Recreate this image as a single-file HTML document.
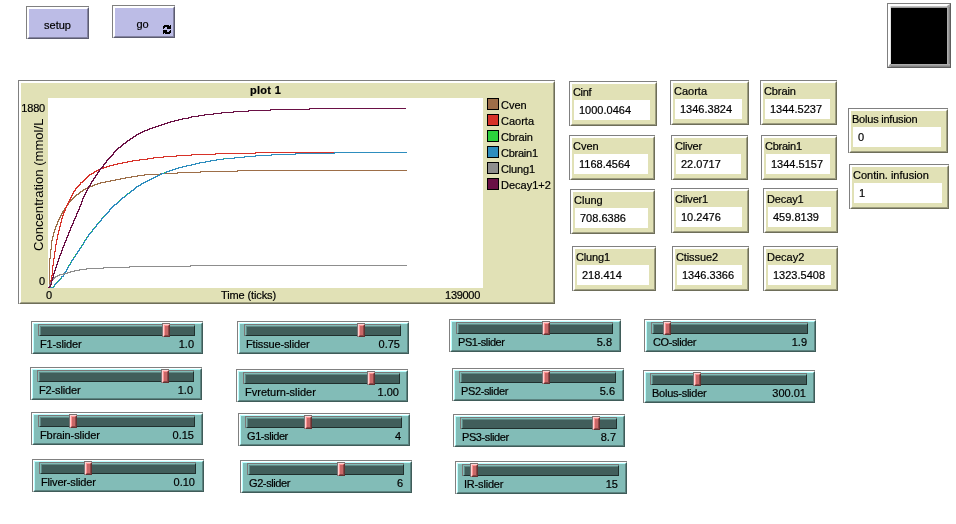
<!DOCTYPE html>
<html lang="en"><head><meta charset="utf-8"><title>NetLogo model</title>
<style>
html,body{margin:0;padding:0;background:#fff;}
body{width:956px;height:524px;position:relative;overflow:hidden;font-family:"Liberation Sans", "DejaVu Sans", sans-serif;font-size:11px;color:#000;line-height:13px;-webkit-text-stroke:0.2px #000;}
.w{position:absolute;box-sizing:border-box;border-top:1px solid #808080;border-left:1px solid #808080;}
.w>.b{position:absolute;left:0;top:0;right:0;bottom:0;box-sizing:border-box;border-style:solid;border-width:2px;}
.t{position:absolute;white-space:nowrap;}
.btn>.b{background:#bcbce6;border-color:#fff #5c5c70 #5c5c70 #fff;}
.btn>.b:after,.mon>.b:after,.sl>.b:after,.plot>.b:after{content:"";position:absolute;left:-1px;top:-1px;right:-1px;bottom:-1px;border-style:solid;border-width:1px;}
.btn>.b:after{border-color:#fff #8383a1 #8383a1 #fff;}
.mon>.b,.plot>.b{background:#e1e1b6;border-color:#fff #6e6e59 #6e6e59 #fff;}
.mon>.b:after,.plot>.b:after{border-color:#fff #9d9d7f #9d9d7f #fff;}
.sl>.b{background:#82bcb7;border-color:#fff #3f5c59 #3f5c59 #fff;}
.sl>.b:after{border-color:#b9ffff #5b8380 #5b8380 #b9ffff;}
.val{position:absolute;background:#fff;}
.ch{position:absolute;box-sizing:border-box;height:12px;background:#415e5b;border-top:1px solid #7b7676;border-left:1px solid #7b7676;}
.ch:before{content:"";position:absolute;left:0;top:0;right:0;bottom:0;box-sizing:border-box;border-style:solid;border-width:1px;border-color:#82bcb7 #202f2d #202f2d #82bcb7;}
.ch:after{content:"";position:absolute;left:1px;top:1px;right:1px;bottom:1px;box-sizing:border-box;border-top:1px solid #5f8985;border-left:1px solid #5f8985;}
.hd{position:absolute;box-sizing:border-box;width:8px;height:14px;background:#c86767;border-top:1px solid #7b7474;border-left:1px solid #7b7474;}
.hd:before{content:"";position:absolute;left:0;top:0;right:0;bottom:0;box-sizing:border-box;border-style:solid;border-width:1px;border-color:#ffd2d2 #623232 #623232 #ffd2d2;}
.hd:after{content:"";position:absolute;left:1px;top:1px;right:1px;bottom:1px;box-sizing:border-box;border-style:solid;border-width:1px;border-color:#ff9393 #8c4848 #8c4848 #ff9393;}
.sw{position:absolute;box-sizing:border-box;width:12px;height:12px;border:1px solid #000;}
</style></head>
<body>
<div class="w btn" style="left:26px;top:6px;width:63px;height:33px"><div class="b"></div><div class="t" style="left:-1px;width:63px;top:12px;text-align:center">setup</div></div>
<div class="w btn" style="left:112px;top:5px;width:63px;height:33px"><div class="b"></div><div class="t" style="left:-2px;width:63px;top:12px;text-align:center">go</div><svg style="position:absolute;left:50px;top:19px" width="8" height="9" viewBox="0 0 8 9" shape-rendering="crispEdges" fill="#000"><rect x="1" y="0" width="5" height="1"/><rect x="7" y="0" width="1" height="1"/><rect x="0" y="1" width="8" height="1"/><rect x="0" y="2" width="2" height="1"/><rect x="4" y="2" width="4" height="1"/><rect x="0" y="3" width="1" height="1"/><rect x="4" y="3" width="4" height="1"/><rect x="0" y="5" width="4" height="1"/><rect x="7" y="5" width="1" height="1"/><rect x="0" y="6" width="4" height="1"/><rect x="6" y="6" width="2" height="1"/><rect x="0" y="7" width="8" height="1"/><rect x="0" y="8" width="1" height="1"/><rect x="2" y="8" width="5" height="1"/></svg></div>
<div style="position:absolute;left:887px;top:3px;width:64px;height:65px;box-sizing:border-box;background:#000;border-style:solid;border-width:1px;border-color:#808080 #5e5e5e #5e5e5e #808080"><div style="position:absolute;left:0;top:0;right:0;bottom:0;box-sizing:border-box;border-style:solid;border-width:2px 3px 3px 2px;border-color:#fff #9c9c9c #9c9c9c #fff"></div><div style="position:absolute;left:2px;top:2px;right:3px;height:2px;background:linear-gradient(#d4d4d4,#8a8a8a)"></div><div style="position:absolute;left:2px;top:2px;width:1px;bottom:3px;background:#e4e4e4"></div><div style="position:absolute;right:0;top:3px;width:3px;bottom:2px;background:linear-gradient(to right,#b6b6b6,#9a9a9a 50%,#767676)"></div><div style="position:absolute;left:3px;bottom:0;right:0;height:3px;background:linear-gradient(#b6b6b6,#9a9a9a 50%,#767676)"></div></div>
<div class="w plot" style="left:18px;top:80px;width:537px;height:224px"><div class="b"></div><div class="t" style="left:29px;width:435px;top:3px;text-align:center;font-weight:bold;letter-spacing:0.3px">plot 1</div><div style="position:absolute;left:29px;top:17px;width:435px;height:190px;background:#fff"></div><div class="t" style="left:0;width:26px;top:21px;text-align:right;letter-spacing:-0.2px">1880</div><div class="t" style="left:0;width:26px;top:194px;text-align:right">0</div><div class="t" style="left:27px;top:208px">0</div><div class="t" style="left:130px;width:199px;top:208px;text-align:center;letter-spacing:-0.12px">Time (ticks)</div><div class="t" style="left:29px;width:432px;top:208px;text-align:right;letter-spacing:-0.3px">139000</div><div class="t" style="left:13px;top:170px;width:140px;height:14px;line-height:14px;font-size:13.1px;-webkit-text-stroke:0;transform-origin:0 0;transform:rotate(-90deg)">Concentration (mmol/L</div><div class="sw" style="left:468px;top:17px;background:#9d6e48"></div><div class="t" style="left:482px;top:18px">Cven</div><div class="sw" style="left:468px;top:33px;background:#d73229"></div><div class="t" style="left:482px;top:34px">Caorta</div><div class="sw" style="left:468px;top:49px;background:#2cd13b"></div><div class="t" style="left:482px;top:50px;letter-spacing:-0.1px">Cbrain</div><div class="sw" style="left:468px;top:65px;background:#2d8dbe"></div><div class="t" style="left:482px;top:66px;letter-spacing:-0.25px">Cbrain1</div><div class="sw" style="left:468px;top:81px;background:#8d8d8d"></div><div class="t" style="left:482px;top:82px;letter-spacing:-0.16px">Clung1</div><div class="sw" style="left:468px;top:97px;background:#6a1045"></div><div class="t" style="left:482px;top:98px">Decay1+2</div><svg style="position:absolute;left:29px;top:17px" width="435" height="190" viewBox="48 98 435 190" shape-rendering="crispEdges" fill="none" stroke-width="1"><path stroke="#9d6e48" d="M48,287.5H49M49.5,258V288M49,258.5H50M50.5,249V259M50,249.5H51M51.5,240V250M51,240.5H52M52.5,236V241M52,236.5H53M53.5,232V237M53,232.5H54M54.5,229V233M54,229.5H55M55.5,226V230M55,226.5H56M56.5,224V227M56,224.5H57M57.5,221V225M57,221.5H58M58.5,219V222M58,219.5H59M59.5,217V220M59,217.5H60M60.5,215V218M60,215.5H61M61.5,213V216M61,213.5H62M62.5,211V214M62,211.5H63M63.5,210V212M63,210.5H64M64.5,208V211M64,208.5H65M65.5,207V209M65,207.5H66M66.5,205V208M66,205.5H67M67.5,204V206M67,204.5H68M68.5,202V205M68,202.5H69M69.5,201V203M69,201.5H70M70.5,200V202M70,200.5H71M71.5,199V201M71,199.5H72M72.5,198V200M72,198.5H73M73.5,197V199M73,197.5H74M74.5,196V198M74,196.5H75M75.5,195V197M75,195.5H76M76.5,194V196M76,194.5H78M78.5,193V195M78,193.5H79M79.5,192V194M79,192.5H80M80.5,191V193M80,191.5H82M82.5,190V192M82,190.5H83M83.5,189V191M83,189.5H85M85.5,188V190M85,188.5H87M87.5,187V189M87,187.5H89M89.5,186V188M89,186.5H92M92.5,185V187M92,185.5H94M94.5,184V186M94,184.5H97M97.5,183V185M97,183.5H100M100.5,182V184M100,182.5H105M105.5,181V183M105,181.5H110M110.5,180V182M110,180.5H115M115.5,179V181M115,179.5H120M120.5,178V180M120,178.5H125M125.5,177V179M125,177.5H131M131.5,176V178M131,176.5H137M137.5,175V177M137,175.5H144M144.5,174V176M144,174.5H160M160.5,173V175M160,173.5H177M177.5,172V174M177,172.5H200M200.5,171V173M200,171.5H237M237.5,170V172M237,170.5H407"/><path stroke="#d73229" d="M48,287.5H49M49.5,284V288M49,284.5H50M50.5,280V285M50,280.5H51M51.5,275V281M51,275.5H52M52.5,265V276M52,265.5H53M53.5,258V266M53,258.5H54M54.5,251V259M54,251.5H55M55.5,244V252M55,244.5H56M56.5,239V245M56,239.5H57M57.5,234V240M57,234.5H58M58.5,230V235M58,230.5H59M59.5,226V231M59,226.5H60M60.5,222V227M60,222.5H61M61.5,218V223M61,218.5H62M62.5,215V219M62,215.5H63M63.5,212V216M63,212.5H64M64.5,210V213M64,210.5H65M65.5,207V211M65,207.5H66M66.5,205V208M66,205.5H67M67.5,203V206M67,203.5H68M68.5,201V204M68,201.5H69M69.5,199V202M69,199.5H70M70.5,197V200M70,197.5H71M71.5,195V198M71,195.5H72M72.5,193V196M72,193.5H73M73.5,191V194M73,191.5H74M74.5,190V192M74,190.5H75M75.5,188V191M75,188.5H76M76.5,187V189M76,187.5H77M77.5,186V188M77,186.5H78M78.5,185V187M78,185.5H79M79.5,184V186M79,184.5H80M80.5,182V185M80,182.5H82M82.5,181V183M82,181.5H83M83.5,180V182M83,180.5H84M84.5,179V181M84,179.5H85M85.5,178V180M85,178.5H86M86.5,177V179M86,177.5H87M87.5,176V178M87,176.5H88M88.5,175V177M88,175.5H89M89.5,174V176M89,174.5H91M91.5,173V175M91,173.5H93M93.5,172V174M93,172.5H94M94.5,171V173M94,171.5H96M96.5,170V172M96,170.5H98M98.5,169V171M98,169.5H100M100.5,168V170M100,168.5H103M103.5,167V169M103,167.5H106M106.5,166V168M106,166.5H109M109.5,165V167M109,165.5H113M113.5,164V166M113,164.5H117M117.5,163V165M117,163.5H122M122.5,162V164M122,162.5H127M127.5,161V163M127,161.5H132M132.5,160V162M132,160.5H139M139.5,159V161M139,159.5H147M147.5,158V160M147,158.5H153M153.5,157V159M153,157.5H163M163.5,156V158M163,156.5H176M176.5,155V157M176,155.5H191M191.5,154V156M191,154.5H215M215.5,153V155M215,153.5H255M255.5,152V154M255,152.5H407"/><path stroke="#2cd13b" d="M48,287.5H53M53.5,286V288M53,286.5H54M54.5,284V287M54,284.5H55M55.5,283V285M55,283.5H56M56.5,282V284M56,282.5H57M57.5,281V283M57,281.5H58M58.5,280V282M58,280.5H59M59.5,279V281M59,279.5H60M60.5,278V280M60,278.5H61M61.5,276V279M61,276.5H63M63.5,274V277M63,274.5H64M64.5,272V275M64,272.5H65M65.5,271V273M65,271.5H66M66.5,269V272M66,269.5H67M67.5,267V270M67,267.5H68M68.5,265V268M68,265.5H69M69.5,264V266M69,264.5H70M70.5,262V265M70,262.5H71M71.5,260V263M71,260.5H72M72.5,259V261M72,259.5H73M73.5,257V260M73,257.5H74M74.5,256V258M74,256.5H75M75.5,254V257M75,254.5H76M76.5,253V255M76,253.5H77M77.5,251V254M77,251.5H78M78.5,250V252M78,250.5H79M79.5,248V251M79,248.5H80M80.5,247V249M80,247.5H81M81.5,245V248M81,245.5H82M82.5,244V246M82,244.5H83M83.5,242V245M83,242.5H84M84.5,240V243M84,240.5H85M85.5,239V241M85,239.5H86M86.5,237V240M86,237.5H87M87.5,236V238M87,236.5H88M88.5,234V237M88,234.5H89M89.5,233V235M89,233.5H90M90.5,232V234M90,232.5H91M91.5,231V233M91,231.5H92M92.5,229V232M92,229.5H93M93.5,228V230M93,228.5H94M94.5,227V229M94,227.5H95M95.5,226V228M95,226.5H96M96.5,224V227M96,224.5H97M97.5,223V225M97,223.5H98M98.5,222V224M98,222.5H99M99.5,221V223M99,221.5H100M100.5,220V222M100,220.5H101M101.5,218V221M101,218.5H102M102.5,217V219M102,217.5H103M103.5,216V218M103,216.5H104M104.5,215V217M104,215.5H105M105.5,214V216M105,214.5H106M106.5,213V215M106,213.5H107M107.5,212V214M107,212.5H108M108.5,211V213M108,211.5H109M109.5,209V212M109,209.5H110M110.5,208V210M110,208.5H111M111.5,207V209M111,207.5H112M112.5,206V208M112,206.5H113M113.5,205V207M113,205.5H114M114.5,204V206M114,204.5H116M116.5,203V205M116,203.5H117M117.5,202V204M117,202.5H118M118.5,201V203M118,201.5H119M119.5,200V202M119,200.5H120M120.5,199V201M120,199.5H121M121.5,198V200M121,198.5H122M122.5,197V199M122,197.5H124M124.5,196V198M124,196.5H125M125.5,195V197M125,195.5H126M126.5,194V196M126,194.5H127M127.5,193V195M127,193.5H129M129.5,192V194M129,192.5H130M130.5,191V193M130,191.5H131M131.5,190V192M131,190.5H133M133.5,189V191M133,189.5H134M134.5,188V190M134,188.5H135M135.5,187V189M135,187.5H136M136.5,186V188M136,186.5H138M138.5,185V187M138,185.5H140M140.5,184V186M140,184.5H141M141.5,183V185M141,183.5H143M143.5,182V184M143,182.5H145M145.5,181V183M145,181.5H147M147.5,180V182M147,180.5H149M149.5,179V181M149,179.5H151M151.5,178V180M151,178.5H153M153.5,177V179M153,177.5H155M155.5,176V178M155,176.5H157M157.5,175V177M157,175.5H159M159.5,174V176M159,174.5H161M161.5,173V175M161,173.5H164M164.5,172V174M164,172.5H166M166.5,171V173M166,171.5H169M169.5,170V172M169,170.5H172M172.5,169V171M172,169.5H175M175.5,168V170M175,168.5H178M178.5,167V169M178,167.5H182M182.5,166V168M182,166.5H186M186.5,165V167M186,165.5H191M191.5,164V166M191,164.5H195M195.5,163V165M195,163.5H199M199.5,162V164M199,162.5H205M205.5,161V163M205,161.5H210M210.5,160V162M210,160.5H216M216.5,159V161M216,159.5H223M223.5,158V160M223,158.5H234M234.5,157V159M234,157.5H244M244.5,156V158M244,156.5H255M255.5,155V157M255,155.5H271M271.5,154V156M271,154.5H295M295.5,153V155M295,153.5H334M334.5,152V154M334,152.5H407"/><path stroke="#2d8dbe" d="M48,287.5H53M53.5,286V288M53,286.5H54M54.5,284V287M54,284.5H55M55.5,283V285M55,283.5H56M56.5,282V284M56,282.5H57M57.5,281V283M57,281.5H58M58.5,280V282M58,280.5H59M59.5,279V281M59,279.5H60M60.5,278V280M60,278.5H61M61.5,276V279M61,276.5H63M63.5,274V277M63,274.5H64M64.5,272V275M64,272.5H65M65.5,271V273M65,271.5H66M66.5,269V272M66,269.5H67M67.5,267V270M67,267.5H68M68.5,265V268M68,265.5H69M69.5,264V266M69,264.5H70M70.5,262V265M70,262.5H71M71.5,260V263M71,260.5H72M72.5,259V261M72,259.5H73M73.5,257V260M73,257.5H74M74.5,256V258M74,256.5H75M75.5,254V257M75,254.5H76M76.5,253V255M76,253.5H77M77.5,251V254M77,251.5H78M78.5,250V252M78,250.5H79M79.5,248V251M79,248.5H80M80.5,247V249M80,247.5H81M81.5,245V248M81,245.5H82M82.5,244V246M82,244.5H83M83.5,242V245M83,242.5H84M84.5,240V243M84,240.5H85M85.5,239V241M85,239.5H86M86.5,237V240M86,237.5H87M87.5,236V238M87,236.5H88M88.5,234V237M88,234.5H89M89.5,233V235M89,233.5H90M90.5,232V234M90,232.5H91M91.5,231V233M91,231.5H92M92.5,229V232M92,229.5H93M93.5,228V230M93,228.5H94M94.5,227V229M94,227.5H95M95.5,226V228M95,226.5H96M96.5,224V227M96,224.5H97M97.5,223V225M97,223.5H98M98.5,222V224M98,222.5H99M99.5,221V223M99,221.5H100M100.5,220V222M100,220.5H101M101.5,218V221M101,218.5H102M102.5,217V219M102,217.5H103M103.5,216V218M103,216.5H104M104.5,215V217M104,215.5H105M105.5,214V216M105,214.5H106M106.5,213V215M106,213.5H107M107.5,212V214M107,212.5H108M108.5,211V213M108,211.5H109M109.5,209V212M109,209.5H110M110.5,208V210M110,208.5H111M111.5,207V209M111,207.5H112M112.5,206V208M112,206.5H113M113.5,205V207M113,205.5H114M114.5,204V206M114,204.5H116M116.5,203V205M116,203.5H117M117.5,202V204M117,202.5H118M118.5,201V203M118,201.5H119M119.5,200V202M119,200.5H120M120.5,199V201M120,199.5H121M121.5,198V200M121,198.5H122M122.5,197V199M122,197.5H124M124.5,196V198M124,196.5H125M125.5,195V197M125,195.5H126M126.5,194V196M126,194.5H127M127.5,193V195M127,193.5H129M129.5,192V194M129,192.5H130M130.5,191V193M130,191.5H131M131.5,190V192M131,190.5H133M133.5,189V191M133,189.5H134M134.5,188V190M134,188.5H135M135.5,187V189M135,187.5H136M136.5,186V188M136,186.5H138M138.5,185V187M138,185.5H140M140.5,184V186M140,184.5H141M141.5,183V185M141,183.5H143M143.5,182V184M143,182.5H145M145.5,181V183M145,181.5H147M147.5,180V182M147,180.5H149M149.5,179V181M149,179.5H151M151.5,178V180M151,178.5H153M153.5,177V179M153,177.5H155M155.5,176V178M155,176.5H157M157.5,175V177M157,175.5H159M159.5,174V176M159,174.5H161M161.5,173V175M161,173.5H164M164.5,172V174M164,172.5H166M166.5,171V173M166,171.5H169M169.5,170V172M169,170.5H172M172.5,169V171M172,169.5H175M175.5,168V170M175,168.5H178M178.5,167V169M178,167.5H182M182.5,166V168M182,166.5H186M186.5,165V167M186,165.5H191M191.5,164V166M191,164.5H195M195.5,163V165M195,163.5H199M199.5,162V164M199,162.5H205M205.5,161V163M205,161.5H210M210.5,160V162M210,160.5H216M216.5,159V161M216,159.5H223M223.5,158V160M223,158.5H234M234.5,157V159M234,157.5H244M244.5,156V158M244,156.5H255M255.5,155V157M255,155.5H271M271.5,154V156M271,154.5H295M295.5,153V155M295,153.5H334M334.5,152V154M334,152.5H407"/><path stroke="#2cd13b" d="M53,286.5h1M57,281.5h1M60,278.5h1M68,265.5h1M70,262.5h1M73,257.5h1M75,254.5h1M80,247.5h1M82,244.5h1M84,240.5h1M86,237.5h1M91,231.5h1M94,227.5h1M98,222.5h1M103,216.5h1M119,200.5h1M125,195.5h1M129,192.5h1M164,172.5h1M224,158.5h1"/><path stroke="#8d8d8d" d="M48,287.5H49M49.5,284V288M49,284.5H50M50.5,282V285M50,282.5H51M51.5,280V283M51,280.5H52M52.5,279V281M52,279.5H53M53.5,278V280M53,278.5H54M54.5,277V279M54,277.5H55M55.5,276V278M55,276.5H57M57.5,275V277M57,275.5H59M59.5,274V276M59,274.5H63M63.5,273V275M63,273.5H67M67.5,272V274M67,272.5H70M70.5,271V273M70,271.5H74M74.5,270V272M74,270.5H79M79.5,269V271M79,269.5H86M86.5,268V270M86,268.5H103M103.5,267V269M103,267.5H129M129.5,266V268M129,266.5H190M190.5,265V267M190,265.5H407"/><path stroke="#6a1045" d="M48,287.5H49M49.5,286V288M49,286.5H50M50.5,284V287M50,284.5H51M51.5,280V285M51,280.5H52M52.5,277V281M52,277.5H53M53.5,273V278M53,273.5H54M54.5,270V274M54,270.5H55M55.5,267V271M55,267.5H56M56.5,264V268M56,264.5H57M57.5,261V265M57,261.5H58M58.5,258V262M58,258.5H59M59.5,255V259M59,255.5H60M60.5,253V256M60,253.5H61M61.5,250V254M61,250.5H62M62.5,247V251M62,247.5H63M63.5,245V248M63,245.5H64M64.5,242V246M64,242.5H65M65.5,240V243M65,240.5H66M66.5,237V241M66,237.5H67M67.5,235V238M67,235.5H68M68.5,232V236M68,232.5H69M69.5,230V233M69,230.5H70M70.5,227V231M70,227.5H71M71.5,225V228M71,225.5H72M72.5,223V226M72,223.5H73M73.5,220V224M73,220.5H74M74.5,218V221M74,218.5H75M75.5,216V219M75,216.5H76M76.5,213V217M76,213.5H77M77.5,211V214M77,211.5H78M78.5,209V212M78,209.5H79M79.5,206V210M79,206.5H80M80.5,204V207M80,204.5H81M81.5,201V205M81,201.5H82M82.5,198V202M82,198.5H83M83.5,196V199M83,196.5H84M84.5,194V197M84,194.5H85M85.5,192V195M85,192.5H86M86.5,190V193M86,190.5H87M87.5,188V191M87,188.5H88M88.5,186V189M88,186.5H89M89.5,185V187M89,185.5H90M90.5,183V186M90,183.5H91M91.5,181V184M91,181.5H92M92.5,180V182M92,180.5H93M93.5,178V181M93,178.5H94M94.5,177V179M94,177.5H95M95.5,175V178M95,175.5H96M96.5,174V176M96,174.5H97M97.5,172V175M97,172.5H98M98.5,171V173M98,171.5H99M99.5,169V172M99,169.5H100M100.5,168V170M100,168.5H101M101.5,167V169M101,167.5H102M102.5,166V168M102,166.5H103M103.5,164V167M103,164.5H104M104.5,163V165M104,163.5H105M105.5,162V164M105,162.5H106M106.5,160V163M106,160.5H107M107.5,159V161M107,159.5H108M108.5,158V160M108,158.5H109M109.5,157V159M109,157.5H110M110.5,156V158M110,156.5H111M111.5,155V157M111,155.5H112M112.5,154V156M112,154.5H113M113.5,152V155M113,152.5H114M114.5,151V153M114,151.5H115M115.5,150V152M115,150.5H116M116.5,149V151M116,149.5H117M117.5,148V150M117,148.5H118M118.5,147V149M118,147.5H120M120.5,146V148M120,146.5H121M121.5,145V147M121,145.5H122M122.5,144V146M122,144.5H123M123.5,143V145M123,143.5H125M125.5,142V144M125,142.5H126M126.5,141V143M126,141.5H127M127.5,140V142M127,140.5H129M129.5,139V141M129,139.5H130M130.5,138V140M130,138.5H132M132.5,137V139M132,137.5H133M133.5,136V138M133,136.5H135M135.5,135V137M135,135.5H136M136.5,134V136M136,134.5H138M138.5,133V135M138,133.5H140M140.5,132V134M140,132.5H142M142.5,131V133M142,131.5H144M144.5,130V132M144,130.5H147M147.5,129V131M147,129.5H149M149.5,128V130M149,128.5H152M152.5,127V129M152,127.5H155M155.5,126V128M155,126.5H158M158.5,125V127M158,125.5H161M161.5,124V126M161,124.5H164M164.5,123V125M164,123.5H167M167.5,122V124M167,122.5H170M170.5,121V123M170,121.5H174M174.5,120V122M174,120.5H178M178.5,119V121M178,119.5H182M182.5,118V120M182,118.5H188M188.5,117V119M188,117.5H191M191.5,116V118M191,116.5H198M198.5,115V117M198,115.5H204M204.5,114V116M204,114.5H213M213.5,113V115M213,113.5H221M221.5,112V114M221,112.5H233M233.5,111V113M233,111.5H248M248.5,110V112M248,110.5H270M270.5,109V111M270,109.5H309M309.5,108V110M309,108.5H406"/></svg></div>
<div class="w mon" style="left:569px;top:81px;width:88px;height:45px"><div class="b"></div><div class="t" style="left:3px;top:4px;letter-spacing:-0.33px">Cinf</div><div class="val" style="left:4px;top:18px;width:76px;height:20px"></div><div class="t" style="left:9px;top:22px">1000.0464</div></div>
<div class="w mon" style="left:670px;top:80px;width:79px;height:45px"><div class="b"></div><div class="t" style="left:3px;top:4px">Caorta</div><div class="val" style="left:4px;top:18px;width:67px;height:20px"></div><div class="t" style="left:9px;top:22px">1346.3824</div></div>
<div class="w mon" style="left:760px;top:80px;width:77px;height:45px"><div class="b"></div><div class="t" style="left:3px;top:4px;letter-spacing:-0.1px">Cbrain</div><div class="val" style="left:4px;top:18px;width:65px;height:20px"></div><div class="t" style="left:9px;top:22px">1344.5237</div></div>
<div class="w mon" style="left:569px;top:135px;width:86px;height:45px"><div class="b"></div><div class="t" style="left:3px;top:4px">Cven</div><div class="val" style="left:4px;top:18px;width:74px;height:20px"></div><div class="t" style="left:9px;top:22px">1168.4564</div></div>
<div class="w mon" style="left:671px;top:135px;width:77px;height:45px"><div class="b"></div><div class="t" style="left:3px;top:4px;letter-spacing:-0.2px">Cliver</div><div class="val" style="left:4px;top:18px;width:65px;height:20px"></div><div class="t" style="left:9px;top:22px">22.0717</div></div>
<div class="w mon" style="left:761px;top:135px;width:76px;height:45px"><div class="b"></div><div class="t" style="left:3px;top:4px;letter-spacing:-0.25px">Cbrain1</div><div class="val" style="left:4px;top:18px;width:64px;height:20px"></div><div class="t" style="left:9px;top:22px">1344.5157</div></div>
<div class="w mon" style="left:570px;top:189px;width:85px;height:45px"><div class="b"></div><div class="t" style="left:3px;top:4px">Clung</div><div class="val" style="left:4px;top:18px;width:73px;height:20px"></div><div class="t" style="left:9px;top:22px">708.6386</div></div>
<div class="w mon" style="left:671px;top:188px;width:78px;height:45px"><div class="b"></div><div class="t" style="left:3px;top:4px;letter-spacing:-0.17px">Cliver1</div><div class="val" style="left:4px;top:18px;width:66px;height:20px"></div><div class="t" style="left:9px;top:22px">10.2476</div></div>
<div class="w mon" style="left:763px;top:188px;width:75px;height:45px"><div class="b"></div><div class="t" style="left:3px;top:4px;letter-spacing:-0.12px">Decay1</div><div class="val" style="left:4px;top:18px;width:63px;height:20px"></div><div class="t" style="left:9px;top:22px">459.8139</div></div>
<div class="w mon" style="left:572px;top:246px;width:84px;height:45px"><div class="b"></div><div class="t" style="left:3px;top:4px;letter-spacing:-0.16px">Clung1</div><div class="val" style="left:4px;top:18px;width:72px;height:20px"></div><div class="t" style="left:9px;top:22px">218.414</div></div>
<div class="w mon" style="left:672px;top:246px;width:77px;height:45px"><div class="b"></div><div class="t" style="left:3px;top:4px;letter-spacing:-0.11px">Ctissue2</div><div class="val" style="left:4px;top:18px;width:65px;height:20px"></div><div class="t" style="left:9px;top:22px">1346.3366</div></div>
<div class="w mon" style="left:763px;top:246px;width:75px;height:45px"><div class="b"></div><div class="t" style="left:3px;top:4px">Decay2</div><div class="val" style="left:4px;top:18px;width:63px;height:20px"></div><div class="t" style="left:9px;top:22px">1323.5408</div></div>
<div class="w mon" style="left:848px;top:108px;width:100px;height:45px"><div class="b"></div><div class="t" style="left:3px;top:4px;letter-spacing:-0.22px">Bolus infusion</div><div class="val" style="left:4px;top:18px;width:88px;height:20px"></div><div class="t" style="left:9px;top:22px">0</div></div>
<div class="w mon" style="left:849px;top:164px;width:100px;height:45px"><div class="b"></div><div class="t" style="left:3px;top:4px">Contin. infusion</div><div class="val" style="left:4px;top:18px;width:88px;height:20px"></div><div class="t" style="left:9px;top:22px">1</div></div>
<div class="w sl" style="left:31px;top:321px;width:172px;height:33px"><div class="b"></div><div class="ch" style="left:6px;top:2px;width:157px"></div><div class="hd" style="left:130px;top:1px"></div><div class="t" style="left:8px;top:16px;letter-spacing:-0.15px">F1-slider</div><div class="t" style="right:9px;top:16px">1.0</div></div>
<div class="w sl" style="left:30px;top:367px;width:172px;height:33px"><div class="b"></div><div class="ch" style="left:6px;top:2px;width:157px"></div><div class="hd" style="left:130px;top:1px"></div><div class="t" style="left:8px;top:16px;letter-spacing:-0.15px">F2-slider</div><div class="t" style="right:9px;top:16px">1.0</div></div>
<div class="w sl" style="left:31px;top:412px;width:172px;height:33px"><div class="b"></div><div class="ch" style="left:6px;top:2px;width:157px"></div><div class="hd" style="left:37px;top:1px"></div><div class="t" style="left:8px;top:16px;letter-spacing:-0.1px">Fbrain-slider</div><div class="t" style="right:9px;top:16px">0.15</div></div>
<div class="w sl" style="left:32px;top:459px;width:172px;height:33px"><div class="b"></div><div class="ch" style="left:6px;top:2px;width:157px"></div><div class="hd" style="left:51px;top:1px"></div><div class="t" style="left:8px;top:16px;letter-spacing:-0.17px">Fliver-slider</div><div class="t" style="right:9px;top:16px">0.10</div></div>
<div class="w sl" style="left:237px;top:321px;width:172px;height:33px"><div class="b"></div><div class="ch" style="left:6px;top:2px;width:157px"></div><div class="hd" style="left:119px;top:1px"></div><div class="t" style="left:8px;top:16px;letter-spacing:-0.14px">Ftissue-slider</div><div class="t" style="right:9px;top:16px">0.75</div></div>
<div class="w sl" style="left:236px;top:369px;width:172px;height:33px"><div class="b"></div><div class="ch" style="left:6px;top:2px;width:157px"></div><div class="hd" style="left:130px;top:1px"></div><div class="t" style="left:8px;top:16px">Fvreturn-slider</div><div class="t" style="right:9px;top:16px">1.00</div></div>
<div class="w sl" style="left:238px;top:413px;width:172px;height:33px"><div class="b"></div><div class="ch" style="left:6px;top:2px;width:157px"></div><div class="hd" style="left:65px;top:1px"></div><div class="t" style="left:8px;top:16px;letter-spacing:-0.42px">G1-slider</div><div class="t" style="right:9px;top:16px">4</div></div>
<div class="w sl" style="left:240px;top:460px;width:172px;height:33px"><div class="b"></div><div class="ch" style="left:6px;top:2px;width:157px"></div><div class="hd" style="left:96px;top:1px"></div><div class="t" style="left:8px;top:16px;letter-spacing:-0.4px">G2-slider</div><div class="t" style="right:9px;top:16px">6</div></div>
<div class="w sl" style="left:449px;top:319px;width:172px;height:33px"><div class="b"></div><div class="ch" style="left:6px;top:2px;width:157px"></div><div class="hd" style="left:92px;top:1px"></div><div class="t" style="left:8px;top:16px;letter-spacing:-0.42px">PS1-slider</div><div class="t" style="right:9px;top:16px">5.8</div></div>
<div class="w sl" style="left:452px;top:368px;width:172px;height:33px"><div class="b"></div><div class="ch" style="left:6px;top:2px;width:157px"></div><div class="hd" style="left:89px;top:1px"></div><div class="t" style="left:8px;top:16px;letter-spacing:-0.38px">PS2-slider</div><div class="t" style="right:9px;top:16px">5.6</div></div>
<div class="w sl" style="left:453px;top:414px;width:172px;height:33px"><div class="b"></div><div class="ch" style="left:6px;top:2px;width:157px"></div><div class="hd" style="left:138px;top:1px"></div><div class="t" style="left:8px;top:16px;letter-spacing:-0.4px">PS3-slider</div><div class="t" style="right:9px;top:16px">8.7</div></div>
<div class="w sl" style="left:455px;top:461px;width:172px;height:33px"><div class="b"></div><div class="ch" style="left:6px;top:2px;width:157px"></div><div class="hd" style="left:14px;top:1px"></div><div class="t" style="left:8px;top:16px;letter-spacing:-0.19px">IR-slider</div><div class="t" style="right:9px;top:16px">15</div></div>
<div class="w sl" style="left:644px;top:319px;width:172px;height:33px"><div class="b"></div><div class="ch" style="left:6px;top:2px;width:157px"></div><div class="hd" style="left:18px;top:1px"></div><div class="t" style="left:8px;top:16px;letter-spacing:-0.39px">CO-slider</div><div class="t" style="right:9px;top:16px">1.9</div></div>
<div class="w sl" style="left:643px;top:370px;width:172px;height:33px"><div class="b"></div><div class="ch" style="left:6px;top:2px;width:157px"></div><div class="hd" style="left:49px;top:1px"></div><div class="t" style="left:8px;top:16px;letter-spacing:-0.25px">Bolus-slider</div><div class="t" style="right:9px;top:16px">300.01</div></div>
</body></html>
